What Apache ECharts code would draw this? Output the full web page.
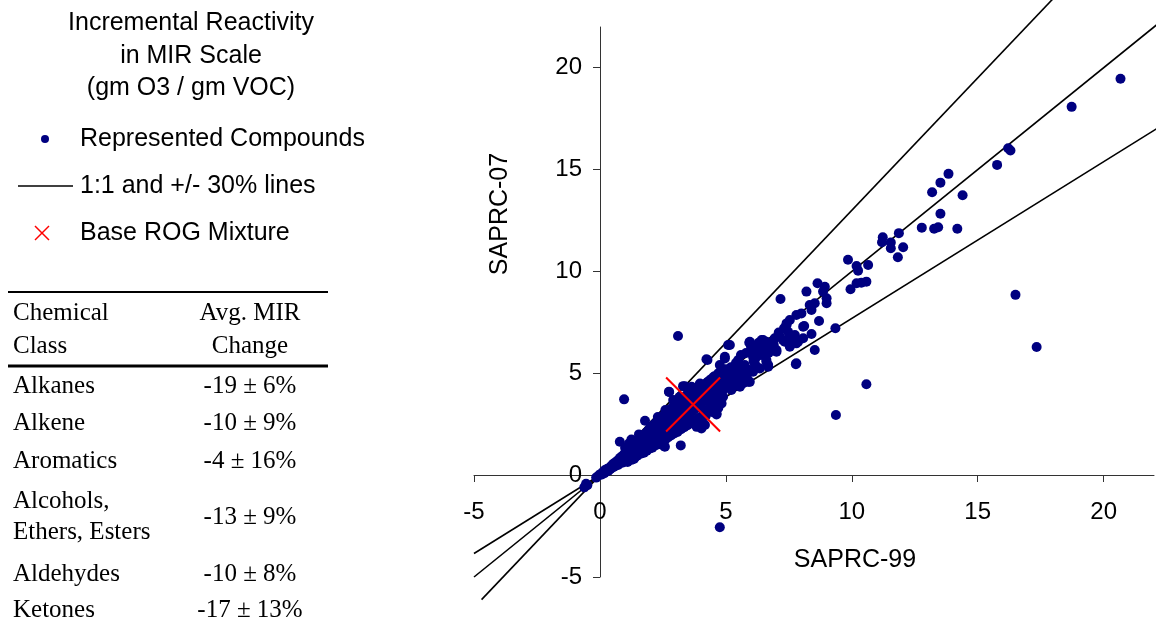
<!DOCTYPE html>
<html>
<head>
<meta charset="utf-8">
<script src="https://cdn.jsdelivr.net/npm/echarts@6/dist/echarts.min.js"></script>
<style>
  html, body { margin: 0; padding: 0; background: #fff; }
  #chart { width: 1165px; height: 620px; }
</style>
</head>
<body>
<div id="chart"></div>
<script>
// axis ticks (both axes)
const tickValues = [-5, 0, 5, 10, 15, 20]

// SAPRC-99 (x) vs SAPRC-07 (y) MIR
const compounds = [
  [-0.62, -0.6], [-0.5, -0.5], [-0.55, -0.42], [-0.15, -0.12], [-0.05, -0.02], [0.02, 0.05], [0.08, 0.03],
  [0.12, 0.15], [0.18, 0.1], [0.2, 0.25], [0.26, 0.18], [0.3, 0.32], [0.34, 0.22], [0.38, 0.36], [0.42, 0.3],
  [0.45, 0.45], [0.5, 0.38], [0.52, 0.55], [0.56, 0.42], [0.6, 0.62], [0.62, 0.48], [0.66, 0.56], [0.7, 0.72],
  [0.72, 0.5], [0.76, 0.64], [0.8, 0.85], [0.82, 0.6], [0.86, 0.74], [0.9, 0.95], [0.92, 0.62], [0.96, 0.82],
  [0.98, 1.05], [1.02, 0.7], [1.05, 0.9], [1.08, 1.15], [1.12, 0.78], [1.15, 1.0], [1.18, 1.28], [1.2, 0.88],
  [1.24, 1.1], [1.28, 1.35], [1.3, 0.95], [1.33, 1.2], [1.36, 1.48], [1.4, 1.02], [1.42, 1.3], [1.46, 1.55],
  [1.5, 1.12], [1.52, 1.4], [1.55, 1.65], [1.58, 1.2], [1.6, 1.48], [1.64, 1.75], [1.68, 1.3], [1.7, 1.58],
  [1.74, 1.85], [1.78, 1.38], [1.8, 1.66], [1.84, 1.95], [1.88, 1.45], [1.9, 1.75], [1.94, 2.05], [1.98, 1.55],
  [2.0, 1.85], [0.79, 1.64], [1.0, 1.35], [1.15, 1.55], [1.25, 1.75], [1.55, 2.0], [1.79, 2.67], [1.35, 0.8],
  [1.7, 1.15], [2.04, 2.15], [2.06, 1.62], [2.1, 1.95], [2.14, 2.28], [2.18, 1.7], [2.2, 2.05], [2.25, 2.38],
  [2.28, 1.78], [2.3, 2.15], [2.35, 2.48], [2.38, 1.85], [2.4, 2.25], [2.45, 2.58], [2.48, 1.95], [2.5, 2.35],
  [2.55, 2.7], [2.58, 2.05], [2.6, 2.45], [2.65, 2.8], [2.68, 2.15], [2.7, 2.55], [2.75, 2.92], [2.78, 2.25],
  [2.8, 2.65], [2.85, 3.02], [2.88, 2.35], [2.9, 2.75], [2.95, 3.12], [2.98, 2.45], [3.0, 2.85], [2.55, 1.42],
  [2.58, 1.39], [3.21, 1.46], [2.75, 4.08], [2.3, 2.85], [2.6, 3.2], [3.04, 3.22], [3.06, 2.55], [3.1, 2.95],
  [3.15, 3.35], [3.18, 2.65], [3.2, 3.05], [3.25, 3.45], [3.28, 2.75], [3.3, 3.15], [3.35, 3.55], [3.38, 2.85],
  [3.4, 3.25], [3.45, 3.7], [3.48, 2.95], [3.5, 3.35], [3.55, 3.8], [3.58, 3.05], [3.6, 3.45], [3.65, 3.92],
  [3.68, 3.15], [3.7, 3.55], [3.75, 4.05], [3.78, 3.25], [3.8, 3.65], [3.85, 4.15], [3.88, 3.35], [3.9, 3.75],
  [3.95, 4.22], [3.98, 3.45], [4.0, 3.85], [2.74, 4.09], [3.37, 4.37], [3.97, 4.5], [3.64, 4.34], [4.17, 4.42],
  [4.37, 4.34], [2.78, 2.86], [3.17, 3.11], [2.91, 3.36], [3.44, 3.36], [3.17, 2.62], [3.57, 2.86], [3.84, 4.01],
  [4.1, 3.93], [4.43, 3.85], [4.63, 4.01], [3.64, 3.69], [3.17, 3.85], [2.91, 3.69], [4.03, 2.62], [4.17, 2.46],
  [3.84, 2.37], [3.77, 2.54], [4.03, 2.29], [4.63, 2.98], [4.1, 3.19], [4.37, 3.44], [4.56, 3.28], [4.63, 3.03],
  [3.3, 4.37], [3.1, 6.83], [0.96, 3.72], [4.05, 3.55], [4.1, 4.3], [4.15, 3.7], [4.2, 4.05], [4.25, 4.55],
  [4.3, 3.8], [4.35, 4.15], [4.4, 4.7], [4.45, 3.95], [4.5, 4.3], [4.55, 4.85], [4.6, 4.1], [4.65, 4.45],
  [4.7, 5.0], [4.75, 4.2], [4.8, 4.6], [4.85, 5.1], [4.9, 4.35], [4.95, 4.75], [5.0, 5.2], [5.05, 4.5],
  [5.1, 4.9], [5.2, 5.3], [5.25, 4.65], [5.3, 5.05], [4.56, 3.69], [4.89, 3.85], [5.22, 4.18], [5.56, 4.34],
  [5.03, 4.5], [4.83, 4.18], [4.27, 5.65], [4.76, 5.41], [5.09, 6.39], [5.49, 5.65], [5.93, 6.5], [5.16, 5.08],
  [5.56, 5.16], [5.82, 4.83], [5.89, 4.58], [6.08, 5.08], [6.22, 5.32], [4.23, 5.69], [4.96, 5.73], [5.75, 5.41],
  [5.89, 5.16], [5.56, 5.0], [5.29, 4.83], [5.16, 4.58], [5.03, 4.34], [4.89, 4.18], [5.69, 4.75], [5.95, 4.58],
  [5.16, 6.39], [5.95, 6.55], [6.42, 6.63], [6.61, 6.55], [6.81, 6.39], [6.55, 6.14], [6.35, 6.14], [6.15, 6.14],
  [6.02, 5.98], [6.22, 5.81], [6.61, 5.65], [6.68, 5.41], [7.01, 6.06], [8.53, 6.14], [7.78, 5.45], [7.31, 7.21],
  [7.47, 7.04], [7.54, 6.77], [7.67, 6.63], [7.8, 6.47], [7.34, 6.55], [7.14, 6.8], [6.94, 6.72], [8.11, 7.32],
  [8.4, 6.93], [8.07, 6.72], [8.7, 7.57], [9.35, 7.21], [7.8, 7.86], [8.0, 7.94], [7.54, 7.62], [7.41, 7.45],
  [9.0, 8.68], [9.0, 8.44], [8.53, 8.44], [8.33, 8.35], [8.4, 8.11], [7.17, 8.65], [8.2, 9.01], [8.64, 9.42],
  [8.93, 9.25], [8.86, 9.01], [5.4, 5.5], [5.6, 5.9], [5.8, 6.0], [6.0, 6.3], [6.3, 6.5], [6.5, 6.3],
  [6.7, 6.0], [6.9, 6.4], [7.1, 7.0], [6.4, 5.9], [5.7, 5.3], [6.1, 5.6], [9.85, 10.57], [10.19, 10.27],
  [10.25, 10.04], [10.65, 10.32], [10.58, 9.5], [10.38, 9.45], [10.19, 9.42], [9.95, 9.13], [10.58, 4.46],
  [9.37, 2.95], [11.83, 10.7], [11.55, 11.14], [11.55, 11.42], [12.04, 11.19], [11.2, 11.43], [11.23, 11.68],
  [11.87, 11.88], [12.78, 12.15], [13.27, 12.1], [13.43, 12.17], [14.19, 12.1], [13.52, 12.83], [13.19, 13.89],
  [14.4, 13.74], [13.52, 14.36], [13.84, 14.79], [15.77, 15.23], [16.21, 16.05], [16.3, 15.94], [18.73, 18.08],
  [20.67, 19.46], [16.5, 8.85], [17.34, 6.29], [4.76, -2.56],
  // wider band between 1 and 5
  [1.05, 1.25], [1.1, 0.65], [1.2, 1.4], [1.25, 0.75], [1.35, 1.55], [1.38, 0.85], [1.45, 1.7], [1.48, 0.95],
  [1.6, 1.85], [1.62, 1.05], [1.72, 1.95], [1.75, 1.1], [1.85, 2.1], [1.86, 1.2], [1.95, 2.25], [1.96, 1.3],
  [2.05, 2.35], [2.08, 1.35], [2.15, 2.5], [2.16, 1.45], [2.25, 2.6], [2.27, 1.5], [2.35, 2.72], [2.37, 1.58],
  [2.45, 2.85], [2.47, 1.65], [2.55, 2.95], [2.6, 1.75], [2.65, 3.1], [2.7, 1.85], [2.8, 3.25], [2.82, 1.95],
  [2.92, 3.35], [2.95, 2.05], [3.05, 3.5], [3.08, 2.12], [3.2, 3.65], [3.22, 2.25], [3.32, 3.8], [3.35, 2.35],
  [3.45, 3.95], [3.48, 2.45], [3.6, 4.1], [3.62, 2.55], [3.72, 4.2], [3.75, 2.65], [3.9, 4.35], [3.92, 2.8],
  [4.05, 4.45], [4.2, 2.9], [4.3, 4.6], [4.45, 3.1], [4.5, 4.8], [4.7, 3.3],
  // band between 4.5 and 8
  [4.96, 5.81], [5.49, 5.57], [7.8, 5.49], [7.41, 7.37], [7.27, 6.63], [7.54, 6.3], [8.07, 7.29], [7.87, 6.55],
  [7.74, 6.88], [6.48, 6.63], [6.75, 6.39], [7.01, 6.14], [6.61, 5.98], [6.28, 6.06], [6.08, 5.81], [6.15, 5.49],
  [5.95, 5.16], [5.82, 4.83], [5.69, 4.51], [6.61, 5.57], [6.68, 5.32], [6.35, 5.24], [5.42, 4.75], [5.22, 5.16],
  [5.09, 4.91], [5.29, 4.42], [4.89, 4.34], [4.83, 3.52], [4.69, 3.93]
]

// base ROG mixture
const baseMixture = [[3.7, 3.47]]

// 1:1 and +/- 30% lines
const lineSlopes = [1.3, 1, 1 / 1.3]
const lineStartX = [-4.7, -5, -5]
const lineEndX = 23

// legend block text
const titleLines = ['Incremental Reactivity', 'in MIR Scale', '(gm O3 / gm VOC)']
const legendLabels = ['Represented Compounds', '1:1 and +/- 30% lines', 'Base ROG Mixture']

// table
const tableHeader = [['Chemical', 'Class'], ['Avg. MIR', 'Change']]
const tableClasses = ['Alkanes', 'Alkene', 'Aromatics', 'Alcohols,\nEthers, Esters', 'Aldehydes', 'Ketones']
const tableChanges = ['-19 ± 6%', '-10 ± 9%', '-4 ± 16%', '-13 ± 9%', '-10 ± 8%', '-17 ± 13%']

const sans = 'Liberation Sans, Arial, sans-serif'
const serif = 'Liberation Serif, Times New Roman, serif'

function txt(str, x, y, extra) {
  return {
    type: 'text', x: x, y: y, silent: true,
    style: Object.assign({
      text: str, fill: '#000', fontFamily: sans, fontSize: 25,
      align: 'left', verticalAlign: 'middle'
    }, extra || {})
  }
}

const graphics = []
// title
const titleY = [23, 56, 88]
titleLines.forEach((t, i) => graphics.push(txt(t, 191, titleY[i], { align: 'center' })))
// legend
const legendY = [139, 186, 233]
graphics.push({ type: 'circle', silent: true, shape: { cx: 45, cy: legendY[0], r: 4 }, style: { fill: '#000080' } })
graphics.push({ type: 'line', silent: true, shape: { x1: 18, y1: legendY[1], x2: 73, y2: legendY[1] }, style: { stroke: '#000', lineWidth: 1.5 } })
graphics.push({ type: 'line', silent: true, shape: { x1: 35, y1: legendY[2] - 7, x2: 49, y2: legendY[2] + 7 }, style: { stroke: '#ff0000', lineWidth: 1.5 } })
graphics.push({ type: 'line', silent: true, shape: { x1: 35, y1: legendY[2] + 7, x2: 49, y2: legendY[2] - 7 }, style: { stroke: '#ff0000', lineWidth: 1.5 } })
legendLabels.forEach((t, i) => graphics.push(txt(t, 80, legendY[i])))

// table rules
graphics.push({ type: 'line', silent: true, shape: { x1: 8, y1: 292, x2: 328, y2: 292 }, style: { stroke: '#000', lineWidth: 2 } })
graphics.push({ type: 'line', silent: true, shape: { x1: 8, y1: 366, x2: 328, y2: 366 }, style: { stroke: '#000', lineWidth: 3 } })
// header
const headerY = [313, 346]
tableHeader[0].forEach((t, i) => graphics.push(txt(t, 13, headerY[i], { fontFamily: serif })))
tableHeader[1].forEach((t, i) => graphics.push(txt(t, 250, headerY[i], { fontFamily: serif, align: 'center' })))
// rows
const rowY = [386, 423, 461, 517, 574, 610]
tableClasses.forEach((t, i) => graphics.push(txt(t, 13, rowY[i], { fontFamily: serif, lineHeight: 31 })))
tableChanges.forEach((t, i) => graphics.push(txt(t, 250, rowY[i], { fontFamily: serif, align: 'center' })))

// axis titles
graphics.push(txt('SAPRC-99', 855, 560, { align: 'center' }))
graphics.push(Object.assign(txt('SAPRC-07', 500, 214, { align: 'center' }), { rotation: Math.PI / 2 }))

const refLines = lineSlopes.map((k, i) => ({
  type: 'line',
  data: [[lineStartX[i], lineStartX[i] * k], [lineEndX, lineEndX * k]],
  symbol: 'none',
  clip: false,
  silent: true,
  z: 2,
  lineStyle: { color: '#000', width: 1.6 }
}))

const axisCommon = {
  type: 'value',
  interval: 5,
  min: -5,
  max: 22,
  splitLine: { show: false },
  axisLine: { onZero: false, lineStyle: { color: '#333', width: 1 } },
  axisTick: { customValues: tickValues, length: 7, lineStyle: { color: '#333' } },
  axisLabel: { customValues: tickValues, color: '#000', fontSize: 24, fontFamily: sans }
}

const option = {
  animation: false,
  backgroundColor: '#fff',
  grid: { left: 474, right: 11, top: 27, bottom: 43, containLabel: false, outerBoundsMode: 'none' },
  // axes cross at the origin: shift them from the grid edge
  xAxis: Object.assign({}, axisCommon, {
    position: 'bottom',
    offset: -102,
    axisLabel: Object.assign({}, axisCommon.axisLabel, { margin: 25 })
  }),
  yAxis: Object.assign({}, axisCommon, {
    position: 'left',
    offset: -126,
    axisLabel: Object.assign({}, axisCommon.axisLabel, { margin: 18 })
  }),
  series: refLines.concat([
    {
      name: 'Represented Compounds',
      type: 'scatter',
      data: compounds,
      symbol: 'circle',
      symbolSize: 10,
      z: 3,
      itemStyle: { color: '#000080', opacity: 1 }
    },
    {
      name: 'Base ROG Mixture',
      type: 'scatter',
      data: baseMixture,
      symbol: 'path://M0,0L10,10M10,0L0,10',
      symbolSize: 54,
      z: 4,
      itemStyle: { color: 'none', borderColor: '#ff0000', borderWidth: 2, opacity: 1 }
    }
  ]),
  graphic: graphics
}

const myChart = echarts.init(document.getElementById('chart'))
myChart.setOption(option)
</script>
</body>
</html>
